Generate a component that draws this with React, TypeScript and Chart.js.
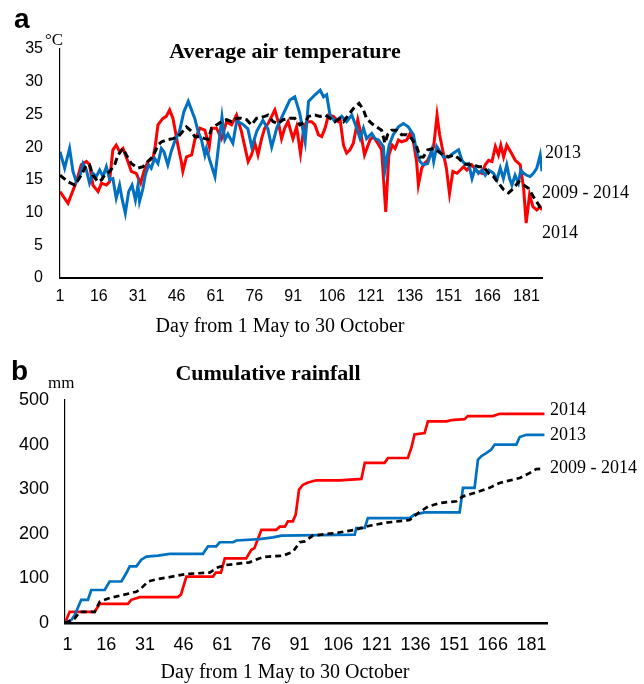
import { useEffect, useRef } from "react";
import { Chart, registerables } from "chart.js";

Chart.register(...registerables);

// ---------- shared ----------
const DAY_TICKS = [1, 16, 31, 46, 61, 76, 91, 106, 121, 136, 151, 166, 181];
const X_TITLE = "Day from 1 May to 30 October";
const SERIES_2014 = "2014";
const SERIES_2013 = "2013";
const SERIES_AVG = "2009 - 2014";

// ---------- panel a: average air temperature (day, °C) ----------
const TEMP_TITLE = "Average air temperature";
const TEMP_UNIT = "°C";
const TEMP_MAX = 35;
const TEMP_STEP = 5;

const temp2014: [number, number][] = [
  [1, 13.2], [4.1, 11.4], [7.3, 14.7], [9.2, 17.3], [11.2, 17.8], [12.4, 17.3], [13.7, 14.2], [15.7, 13.2],
  [17, 14.5], [18.9, 14.2], [20.1, 14.7], [21.4, 19.6], [22.7, 20.3], [24, 19.3], [25.3, 19.8], [27.2, 17.8],
  [28.5, 16.3], [30.4, 16.0], [32.1, 14.5], [33.4, 16.3], [34.9, 17.8], [36.9, 18.3], [37.8, 20.3], [38.8, 23.4],
  [40.7, 24.4], [42, 24.7], [43.3, 25.7], [44.6, 24.4], [46.5, 20.3], [47.8, 17.8], [48.4, 16.3], [49.8, 18.5],
  [51.8, 18.8], [53, 21.1], [55, 22.9], [56.9, 22.6], [58.6, 20.1], [59.5, 22.9], [61.4, 22.9], [63.3, 21.3],
  [65.3, 23.9], [67.2, 23.4], [69.1, 24.9], [71, 22.4], [73.6, 17.8], [74.9, 18.8], [76.2, 20.6], [77.4, 18.8],
  [78.8, 21.3], [80, 22.9], [81.3, 23.6], [83.9, 25.7], [85.2, 23.9], [86.5, 21.3], [87.7, 22.9], [89, 23.9],
  [90.9, 21.3], [92.3, 23.1], [93.8, 19.0], [95.1, 23.0], [96.2, 23.9], [98.1, 23.9], [99.4, 23.4], [100.7, 21.9],
  [102, 21.6], [103.3, 22.9], [104.6, 24.9], [106.5, 24.7], [108.4, 23.9], [109.1, 24.2], [110.4, 20.3], [111.6, 19.1],
  [112.9, 19.6], [114.2, 20.6], [115.9, 24.2], [117.2, 21.9], [118.5, 18.8], [119.7, 20.1], [120.6, 21.1], [121.9, 21.6],
  [123.6, 20.6], [125.1, 19.6], [126.7, 10.1], [127.9, 18.8], [129.2, 20.3], [130.3, 19.8], [131.6, 21.1], [132.8, 20.8],
  [134.8, 21.1], [136.1, 22.1], [137.4, 20.8], [138.6, 17.8], [139.3, 14.2], [140.6, 16.8], [141.6, 17.5], [142.9, 18.0],
  [145.2, 20.1], [146.5, 24.9], [147.5, 21.9], [148.8, 19.3], [150.1, 16.8], [151.3, 12.9], [152.6, 16.3], [154.2, 16.0],
  [155.5, 16.5], [156.7, 17.0], [158, 16.5], [159.9, 17.3], [161.9, 16.3], [163.8, 16.0], [165.1, 17.3], [166.4, 18.0],
  [167.7, 17.8], [169, 20.1], [170.2, 18.8], [171.1, 20.3], [172.2, 18.5], [173.4, 20.3], [174.9, 19.3], [176.7, 18.0],
  [178.6, 17.3], [179.9, 13.7], [180.9, 8.4], [182.2, 12.7], [183.5, 10.9], [185, 10.4], [186.3, 10.9], [187, 10.4],
];

const temp2013: [number, number][] = [
  [1, 19.3], [2.8, 16.8], [4.7, 19.8], [6, 16.3], [7.3, 14.7], [8.6, 15.5], [9.9, 17.5], [11.2, 16.5],
  [12.4, 14.5], [13.7, 16], [15, 15.5], [16.3, 16.5], [17.6, 15.5], [18.9, 17], [20.2, 15], [21.4, 15.2],
  [22.7, 12.2], [24, 14.2], [24.9, 12.2], [26.2, 9.9], [27.5, 13.2], [28.8, 14.2], [30.1, 11.9], [31.1, 14.2],
  [31.7, 11.7], [33, 13.7], [33.9, 15.7], [35.2, 17.3], [36.2, 16.8], [37.5, 18.3], [38.8, 17.5], [40.1, 19.8],
  [41.1, 19.3], [42.6, 17.3], [43.9, 19.3], [45.2, 20.8], [47.1, 22.4], [48.8, 25.4], [50.5, 27], [53, 24.4],
  [54.3, 22.4], [55.6, 21.1], [56.9, 18.8], [57.5, 19.8], [58.8, 18], [60.8, 15.5], [63.5, 24.6], [64.6, 21.1],
  [65.8, 22], [67.7, 20.6], [69.2, 24], [71.5, 23.5], [73.5, 22.8], [75, 20], [77, 22.5], [79.3, 24.1],
  [81.2, 22.8], [82.7, 20], [84.7, 23], [86.6, 24.6], [89.7, 27.2], [91.6, 27.7], [93.5, 25.2], [95.6, 20.8],
  [96.9, 27], [99.4, 28], [101.4, 28.7], [102.7, 27.7], [103.9, 28], [105.2, 24.9], [107.1, 23.9], [109.7, 24.7],
  [111.6, 23.9], [113.6, 24.9], [115.5, 22.9], [116.8, 21.3], [118.1, 22.9], [119.3, 21.3], [121.3, 22.1], [122.5, 21.3],
  [123.9, 21.1], [125.8, 20.1], [126.4, 16.5], [128, 20.3], [129.6, 21.9], [131.6, 23.1], [133.5, 23.6], [135.4, 23.1],
  [137.4, 21.9], [138.6, 19.3], [139.9, 17.8], [141.2, 17.3], [142.9, 17.5], [144.5, 19.6], [145.2, 17.8], [146.4, 20.1],
  [147.7, 19.3], [149, 18.5], [150.9, 18.5], [152.9, 19.1], [154.8, 19.6], [156.1, 18], [157.4, 17.3], [158.7, 17.5],
  [160, 15.2], [161.2, 16.8], [162.5, 16], [163.8, 16.5], [165.1, 15.7], [166.4, 16.5], [168.3, 16], [169.6, 15],
  [170.9, 16.8], [172.1, 15.2], [173.4, 17.3], [174.5, 15.2], [175.4, 14.2], [176.6, 15.7], [177.9, 14.5], [178.8, 16.5],
  [179.9, 16], [181.1, 15.7], [182.4, 15.5], [183.7, 16], [185, 16.8], [186.3, 18.8], [187, 16.3],
];

const tempAvg: [number, number][] = [
  [1, 15.7], [4.1, 14.7], [6.7, 14.2], [9.2, 15.7], [11.2, 17.3], [12.4, 17.3], [13.7, 15.7], [15.7, 14.7],
  [17, 15], [18.2, 15.7], [20.2, 16.3], [22.1, 17.3], [23.4, 18.8], [25.3, 19.8], [26.6, 18.8], [28.5, 17.5],
  [31.1, 16.8], [33, 17], [34.9, 17.8], [36.9, 18.6], [38.8, 20.3], [40.1, 20.8], [42, 21.1], [44.6, 21.3],
  [46.5, 21.6], [47.3, 21.9], [49.8, 23.1], [51.8, 22.4], [53, 21.6], [55, 21.6], [56.9, 21.3], [58.2, 21.2],
  [59.5, 22.9], [61.4, 23.4], [63.3, 23.9], [65.3, 24.2], [67.2, 23.9], [69.1, 24.4], [71, 24.4], [73, 24.2],
  [74.9, 23.4], [76.8, 24.4], [80, 24.7], [81.3, 24.9], [83.2, 23.9], [85.2, 23.6], [87.1, 24.2], [89.7, 24.4],
  [91.6, 24.4], [93.5, 23.4], [95.8, 23.9], [96.9, 24.7], [99.4, 24.9], [101.3, 24.7], [103.3, 24.9], [105.2, 24.4],
  [107.1, 23.9], [109.1, 24.4], [110.4, 23.9], [112.3, 24.9], [114.2, 25.9], [116.4, 26.7], [118.1, 25.7], [119.3, 24.4],
  [121.3, 23.6], [123.2, 23.1], [125.1, 22.6], [126.4, 20.6], [127.4, 21.9], [129, 22.6], [130.9, 22.6], [132.8, 21.9],
  [134.8, 21.9], [136.7, 21.3], [138.6, 20.1], [139.9, 18.5], [141.2, 18.5], [142.9, 19.6], [145.2, 19.8], [147.1, 19.3],
  [149, 18.8], [151, 18.5], [152.9, 18.8], [154.8, 18.3], [156.7, 17.5], [158.7, 17.3], [160.6, 17.3], [162.5, 17],
  [164.5, 17], [166.4, 16], [168.3, 15.5], [170.2, 14.5], [172.2, 13.5], [174.1, 13], [176, 13.7], [178, 14.7],
  [179.9, 14.2], [181.8, 13.7], [183.7, 12.4], [185.7, 11.2], [186.9, 10.1],
];

// ---------- panel b: cumulative rainfall (day, mm) ----------
const RAIN_TITLE = "Cumulative rainfall";
const RAIN_UNIT = "mm";
const RAIN_MAX = 500;
const RAIN_STEP = 100;

const rain2014: [number, number][] = [
  [0, 0], [1.8, 25], [11.5, 25], [13.5, 43], [24.4, 43], [25.7, 52], [29, 58], [43.8, 58], [45, 64], [47.1, 104],
  [57.4, 104], [58.5, 113], [60.5, 113], [62, 145], [70.3, 145], [72.3, 164], [73.5, 168], [76.2, 209], [82, 209],
  [83.3, 216], [85.3, 216], [86.5, 228], [88.4, 228], [89.5, 243], [90.8, 299], [92.3, 310], [94.3, 315], [97.5, 320],
  [106.6, 320], [115, 323], [116.3, 359], [124, 359], [125.3, 370], [133, 370], [134.4, 393], [135.6, 423], [139.5, 426],
  [140.8, 452], [148, 452], [150, 455], [155, 457], [156.3, 464], [166, 464], [168.6, 469], [186, 469],
];

const rain2013: [number, number][] = [
  [0, 0], [2.5, 7], [3.8, 18], [6.3, 52], [8.9, 52], [10.2, 74], [15.4, 74], [17.3, 93], [21.9, 93], [23.8, 112],
  [25.1, 127], [27.7, 127], [29.6, 142], [31.6, 149], [36.1, 151], [40.6, 155], [53.5, 155], [55.5, 172], [58.7, 172],
  [60, 181], [65.2, 181], [66.5, 185], [75.5, 188], [80.7, 192], [84, 196], [112.4, 198], [113, 213], [116.3, 213],
  [117.5, 235], [133.7, 235], [135.6, 243], [139.5, 248], [153.1, 248], [154.4, 303], [158.9, 303], [160.2, 366],
  [161.5, 374], [163.4, 381], [165.4, 389], [166.7, 400], [175.1, 400], [176.4, 417], [179, 422], [186, 422],
];

const rainAvg: [number, number][] = [
  [0, 0], [3.8, 10], [5.7, 25], [11.5, 25], [13.5, 48], [17.3, 56], [22.5, 63], [27.7, 70], [29.6, 78], [32.2, 93],
  [35.4, 98], [40.6, 103], [47.1, 110], [56.1, 113], [59.4, 125], [62.6, 130], [71.6, 136], [76.8, 148], [84.6, 151],
  [88.5, 160], [91, 181], [93, 183], [96.2, 196], [105.3, 202], [112.4, 209], [118.2, 218], [124.7, 225], [133.7, 231],
  [136.9, 246], [140.8, 261], [145.3, 269], [151.8, 273], [154.4, 284], [159.6, 293], [164.7, 303], [168.6, 314],
  [176.4, 325], [180.2, 336], [182.8, 345], [185.4, 346],
];

// ---------- styling / layout (not data) ----------
const SERIF = '"Liberation Serif", "Times New Roman", serif';
const SANS = '"Liberation Sans", Arial, sans-serif';
const RED = "#FF0000";
const BLUE = "#0070C0";
const BLACK = "#000000";

const toXY = (pts: [number, number][]) => pts.map(([x, y]) => ({ x, y }));

type LabelSpec = { text: string; value: number; dx: number };

function overlayPlugin(opts: {
  letter: string; letterX: number; letterY: number;
  unit: string; unitX: number; unitY: number;
  title: string; titleX: number; titleY: number;
  axisTitleX: number; axisTitleY: number;
  labels: LabelSpec[];
}) {
  return {
    id: "overlay",
    afterDraw(chart: any) {
      const ctx = chart.ctx as CanvasRenderingContext2D;
      const area = chart.chartArea;
      const yScale = chart.scales.y;
      ctx.save();
      ctx.fillStyle = "#000";
      ctx.textBaseline = "alphabetic";
      ctx.textAlign = "left";
      ctx.font = `bold 28px ${SANS}`;
      ctx.fillText(opts.letter, opts.letterX, opts.letterY);
      ctx.font = `17px ${SERIF}`;
      ctx.fillText(opts.unit, opts.unitX, opts.unitY);
      ctx.textAlign = "center";
      ctx.textBaseline = "middle";
      ctx.font = `bold 22px ${SERIF}`;
      ctx.fillText(opts.title, opts.titleX, opts.titleY);
      ctx.font = `20px ${SERIF}`;
      ctx.fillText(X_TITLE, opts.axisTitleX, opts.axisTitleY);
      ctx.font = `18px ${SERIF}`;
      ctx.textAlign = "left";
      for (const l of opts.labels) {
        ctx.fillText(l.text, area.right + l.dx, yScale.getPixelForValue(l.value));
      }
      ctx.restore();
    },
  };
}

function makeConfig(p: {
  series: { label: string; pts: [number, number][]; color: string; dash?: number[] }[];
  lineWidth: number;
  xMin: number; xMax: number;
  yMax: number; yStep: number;
  padding: { left: number; right: number; top: number; bottom: number };
  yWidth: number; xHeight: number;
  tickSize: number; xTickPad: number; yTickPad: number; xBorder: number;
  plugin: any;
}): any {
  return {
    type: "line",
    data: {
      datasets: p.series.map((s) => ({
        label: s.label,
        data: toXY(s.pts),
        borderColor: s.color,
        backgroundColor: s.color,
        borderWidth: p.lineWidth,
        borderDash: s.dash || [],
        pointRadius: 0,
        tension: 0,
        fill: false,
      })),
    },
    options: {
      responsive: false,
      animation: false,
      events: [],
      layout: { padding: p.padding },
      plugins: { legend: { display: false }, tooltip: { enabled: false }, title: { display: false } },
      scales: {
        x: {
          type: "linear",
          min: p.xMin,
          max: p.xMax,
          grid: { display: false, drawTicks: false },
          border: { display: true, color: "#000", width: p.xBorder },
          ticks: {
            autoSkip: false,
            maxRotation: 0,
            padding: p.xTickPad,
            color: "#000",
            font: { family: SANS, size: p.tickSize },
            callback: (v: any) => String(v),
          },
          afterBuildTicks: (s: any) => {
            s.ticks = DAY_TICKS.map((v) => ({ value: v }));
          },
          afterFit: (s: any) => {
            s.height = p.xHeight;
          },
        },
        y: {
          min: 0,
          max: p.yMax,
          grid: { display: false, drawTicks: false },
          border: { display: true, color: "#000", width: 1.2 },
          ticks: {
            stepSize: p.yStep,
            padding: p.yTickPad,
            color: "#000",
            font: { family: SANS, size: p.tickSize },
          },
          afterFit: (s: any) => {
            s.width = p.yWidth;
          },
        },
      },
    },
    plugins: [p.plugin],
  };
}

export default function App() {
  const refA = useRef<HTMLCanvasElement>(null);
  const refB = useRef<HTMLCanvasElement>(null);

  useEffect(() => {
    const chartA = new Chart(
      refA.current as HTMLCanvasElement,
      makeConfig({
        series: [
          { label: SERIES_AVG, pts: tempAvg, color: BLACK, dash: [7, 4] },
          { label: SERIES_2013, pts: temp2013, color: BLUE },
          { label: SERIES_2014, pts: temp2014, color: RED },
        ],
        lineWidth: 3,
        xMin: 1, xMax: 187,
        yMax: TEMP_MAX, yStep: TEMP_STEP,
        padding: { left: 0, right: 102, top: 49, bottom: 2 },
        yWidth: 60, xHeight: 60,
        tickSize: 16, xTickPad: 9, yTickPad: 17, xBorder: 2,
        plugin: overlayPlugin({
          letter: "a", letterX: 14, letterY: 28,
          unit: TEMP_UNIT, unitX: 45, unitY: 45,
          title: TEMP_TITLE, titleX: 285, titleY: 52,
          axisTitleX: 280, axisTitleY: 327,
          labels: [
            { text: SERIES_2013, value: 19.1, dx: 3 },
            { text: SERIES_AVG, value: 13.0, dx: 0 },
            { text: SERIES_2014, value: 6.9, dx: 0 },
          ],
        }),
      })
    );
    const chartB = new Chart(
      refB.current as HTMLCanvasElement,
      makeConfig({
        series: [
          { label: SERIES_AVG, pts: rainAvg, color: BLACK, dash: [6, 4] },
          { label: SERIES_2013, pts: rain2013, color: BLUE },
          { label: SERIES_2014, pts: rain2014, color: RED },
        ],
        lineWidth: 2.7,
        xMin: 0, xMax: 187,
        yMax: RAIN_MAX, yStep: RAIN_STEP,
        padding: { left: 0, right: 97, top: 60, bottom: 0 },
        yWidth: 65, xHeight: 61,
        tickSize: 18, xTickPad: 11, yTickPad: 16, xBorder: 2.5,
        plugin: overlayPlugin({
          letter: "b", letterX: 11, letterY: 40,
          unit: RAIN_UNIT, unitX: 48, unitY: 48,
          title: RAIN_TITLE, titleX: 268, titleY: 34,
          axisTitleX: 285, axisTitleY: 333,
          labels: [
            { text: SERIES_2014, value: 477, dx: 3 },
            { text: SERIES_2013, value: 421, dx: 3 },
            { text: SERIES_AVG, value: 347, dx: 3 },
          ],
        }),
      })
    );
    return () => {
      chartA.destroy();
      chartB.destroy();
    };
  }, []);

  return (
    <div style={{ position: "absolute", left: 0, top: 0, width: 644, height: 684, background: "#fff" }}>
      <canvas ref={refA} width={644} height={340} style={{ position: "absolute", left: 0, top: 0 }} />
      <canvas ref={refB} width={644} height={344} style={{ position: "absolute", left: 0, top: 340 }} />
    </div>
  );
}
